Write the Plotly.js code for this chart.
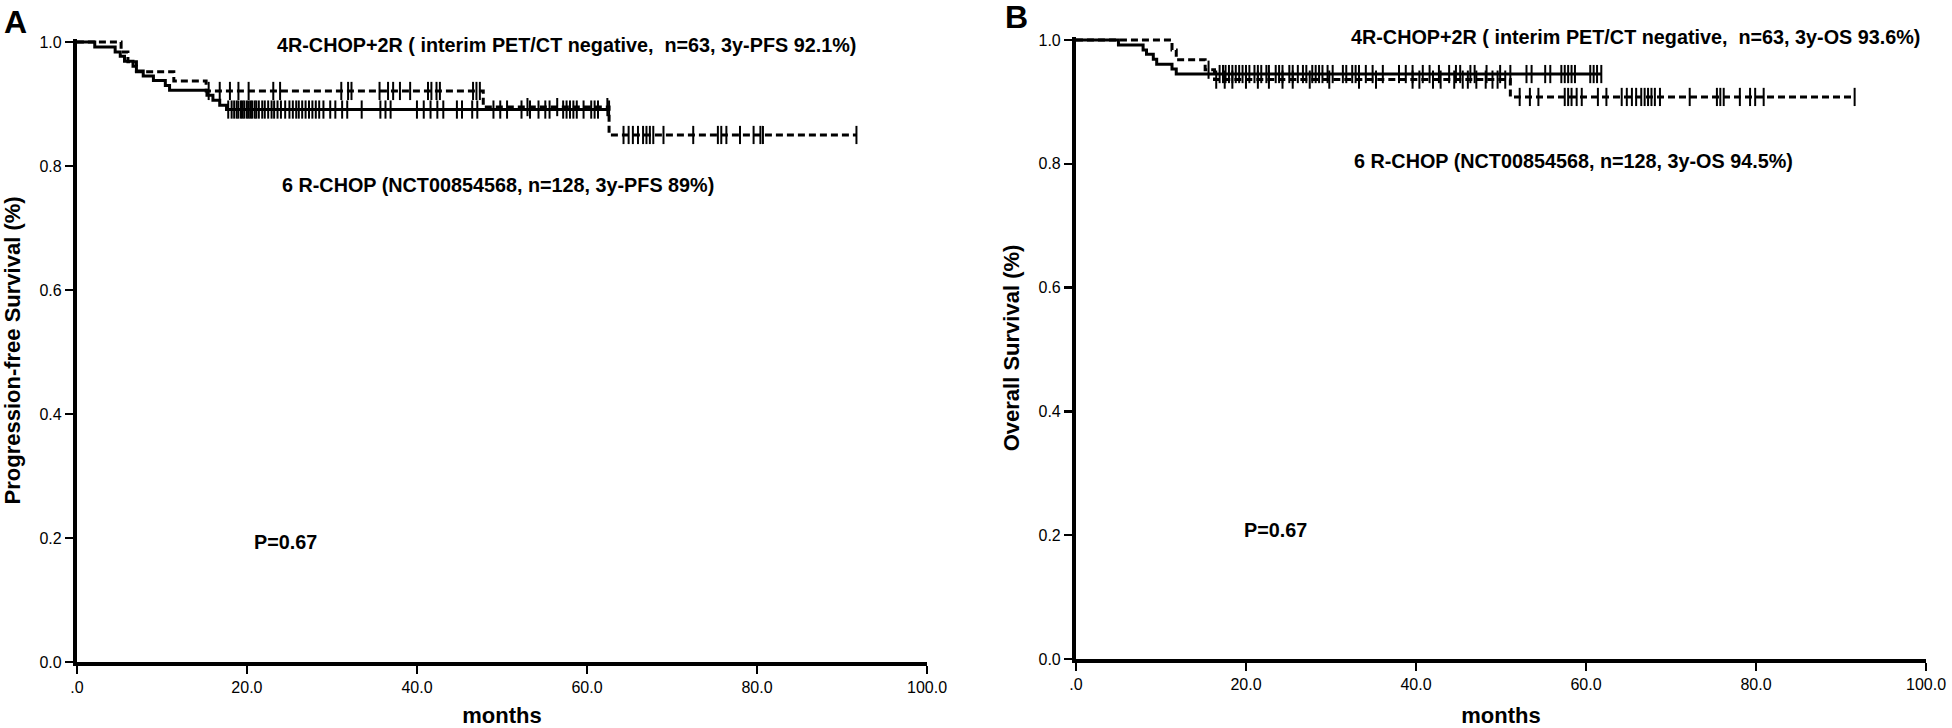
<!DOCTYPE html>
<html>
<head>
<meta charset="utf-8">
<script src="https://cdn.plot.ly/plotly-3.0.1.min.js"></script>
<style>
  html, body { margin: 0; padding: 0; background: #fff; }
  #km { width: 1952px; height: 728px; }
</style>
</head>
<body>
<div id="km"></div>
<script>
// ---- A: progression-free survival ----
// 6 R-CHOP (NCT00854568), solid line
var pfsRchopEvents   = [2.1, 4.5, 5.1, 5.6, 6.6, 7.0, 7.8, 9.0, 10.4, 10.9, 15.3, 16.0, 16.8, 17.6];
var pfsRchopSurv     = [0.992, 0.984, 0.977, 0.969, 0.961, 0.953, 0.945, 0.938, 0.930, 0.922, 0.914, 0.906, 0.898, 0.891];
var pfsRchopCensored = [17.8, 18.2, 18.5, 18.8, 19.0, 19.3, 19.5, 19.7, 20.0, 20.2, 20.4, 20.6, 20.9, 21.1, 21.4,
                        21.8, 22.1, 22.5, 22.9, 23.2, 23.6, 24.0, 24.5, 25.0, 25.4, 25.8, 26.1, 26.5, 26.9, 27.3,
                        27.7, 28.1, 28.5, 29.0, 29.8, 30.4, 31.2, 31.8, 33.5, 35.7, 36.3, 36.9, 40.0, 40.8, 41.6,
                        42.4, 43.1, 44.7, 45.3, 46.5, 47.1, 49.0, 49.8, 50.6, 52.3, 53.3, 54.3, 55.1, 55.6, 57.2,
                        57.6, 58.0, 58.4, 58.8, 59.6, 60.5, 60.9, 61.3, 62.6];
// 4R-CHOP+2R (interim PET/CT negative), dashed line
var pfsShortEvents   = [5.2, 6.0, 7.0, 11.4, 15.2, 47.8, 62.6];
var pfsShortSurv     = [0.984, 0.968, 0.952, 0.937, 0.921, 0.895, 0.850];
var pfsShortCensored = [15.5, 16.8, 18.0, 19.0, 20.2, 23.1, 23.9, 31.1, 31.9, 32.3, 35.6, 36.6, 37.2, 38.0, 39.2,
                        41.3, 41.7, 42.3, 42.7, 46.6, 47.0, 47.4, 53.0, 56.5, 62.4, 64.3, 64.9, 65.4, 66.0, 66.6,
                        67.0, 67.4, 67.8, 69.0, 72.5, 75.4, 75.8, 76.4, 78.0, 79.6, 80.4, 80.7, 91.7];

// ---- B: overall survival ----
var osRchopEvents   = [5.0, 7.9, 8.3, 9.1, 9.5, 11.3, 11.8];
var osRchopSurv     = [0.992, 0.984, 0.977, 0.969, 0.961, 0.953, 0.945];
var osRchopCensored = [16.9, 17.3, 17.6, 18.0, 18.4, 18.8, 19.2, 19.6, 20.0, 20.4, 21.0, 21.4, 21.8, 22.4, 22.7,
                       23.5, 23.9, 24.3, 25.1, 25.5, 26.1, 26.7, 27.1, 27.8, 28.2, 28.6, 29.0, 29.6, 30.2, 31.4,
                       31.8, 32.5, 32.9, 33.3, 34.1, 34.9, 36.1, 38.0, 38.8, 39.6, 40.8, 41.6, 42.7, 43.9, 44.7,
                       45.2, 46.4, 46.9, 48.3, 49.9, 51.1, 53.0, 53.6, 55.2, 55.8, 57.1, 57.5, 57.9, 58.3, 58.7,
                       60.5, 60.9, 61.3, 61.8];
var osShortEvents   = [11.3, 11.8, 15.2, 16.3, 51.1];
var osShortSurv     = [0.984, 0.968, 0.952, 0.936, 0.908];
var osShortCensored = [15.6, 16.5, 17.5, 18.4, 20.0, 21.4, 22.7, 24.3, 25.5, 27.5, 29.8, 33.3, 35.3, 39.6, 40.4,
                       42.0, 42.9, 44.5, 45.5, 46.1, 47.1, 48.2, 49.0, 49.6, 50.5, 52.2, 53.4, 54.4, 57.5, 57.9,
                       58.3, 58.9, 59.5, 61.4, 62.4, 64.2, 64.8, 65.4, 65.9, 66.5, 66.9, 67.3, 67.7, 68.1, 68.7,
                       72.2, 75.4, 75.8, 76.2, 78.1, 79.3, 79.9, 80.9, 91.6];

var xTickVals = [0, 20, 40, 60, 80, 100];
var xTickText = ['.0', '20.0', '40.0', '60.0', '80.0', '100.0'];
var yTickVals = [0, 0.2, 0.4, 0.6, 0.8, 1.0];
var yTickText = ['0.0', '0.2', '0.4', '0.6', '0.8', '1.0'];

var FONT = 'Liberation Sans, Arial, Helvetica, sans-serif';

// KM level at time t (step function)
function survAt(t, events, surv) {
  var s = 1;
  for (var i = 0; i < events.length; i++) {
    if (events[i] <= t) s = surv[i];
  }
  return s;
}

function kmTraces(events, surv, censored, dash, xa, ya) {
  var last = Math.max(censored[censored.length - 1], events[events.length - 1]);
  var lx = [0].concat(events).concat([last]);
  var ly = [1].concat(surv).concat([surv[surv.length - 1]]);
  var cy = censored.map(function (t) { return survAt(t, events, surv); });
  return [
    {x: lx, y: ly, xaxis: xa, yaxis: ya, mode: 'lines',
     line: {shape: 'hv', color: '#000', width: 3, dash: dash}, hoverinfo: 'skip'},
    {x: censored, y: cy, xaxis: xa, yaxis: ya, mode: 'markers', cliponaxis: false,
     marker: {symbol: 'line-ns-open', size: 13, color: '#000', line: {color: '#000', width: 2}}}
  ];
}

var data = []
  .concat(kmTraces(pfsShortEvents, pfsShortSurv, pfsShortCensored, '7px,4px', 'x', 'y'))
  .concat(kmTraces(pfsRchopEvents, pfsRchopSurv, pfsRchopCensored, 'solid', 'x', 'y'))
  .concat(kmTraces(osShortEvents, osShortSurv, osShortCensored, '7px,4px', 'x2', 'y2'))
  .concat(kmTraces(osRchopEvents, osRchopSurv, osRchopCensored, 'solid', 'x2', 'y2'));

function xAxis(domain, anchor) {
  return {
    domain: domain, anchor: anchor, range: [0, 100],
    tickvals: xTickVals, ticktext: xTickText,
    showline: true, linewidth: 4, linecolor: '#000',
    ticks: 'outside', ticklen: 8, tickwidth: 2.5, tickcolor: '#000',
    showgrid: false, zeroline: false,
    tickfont: {family: FONT, size: 16, color: '#000'},
    title: {text: 'months', font: {family: FONT, size: 22, color: '#000', weight: 'bold'}}
  };
}
function yAxis(domain, anchor, title) {
  return {
    domain: domain, anchor: anchor, range: [0, 1.005],
    tickvals: yTickVals, ticktext: yTickText,
    showline: true, linewidth: 4, linecolor: '#000',
    ticks: 'outside', ticklen: 8, tickwidth: 2.5, tickcolor: '#000',
    showgrid: false, zeroline: false,
    tickfont: {family: FONT, size: 16, color: '#000'},
    title: {text: title, font: {family: FONT, size: 22, color: '#000', weight: 'bold'}}
  };
}

function note(text, x, y, xref, yref, size) {
  return {text: text, x: x, y: y, xref: xref, yref: yref, xanchor: 'left', yanchor: 'middle',
          showarrow: false, font: {family: FONT, size: size, color: '#000', weight: 'bold'}};
}

var layout = {
  width: 1952, height: 728,
  margin: {l: 0, r: 0, t: 0, b: 0},
  paper_bgcolor: '#fff', plot_bgcolor: '#fff',
  showlegend: false,
  xaxis: xAxis([0.0394, 0.4749], 'y'),
  yaxis: yAxis([0.0907, 0.9466], 'x', 'Progression-free Survival (%)'),
  xaxis2: xAxis([0.5512, 0.9867], 'y2'),
  yaxis2: yAxis([0.0948, 0.9493], 'x2', 'Overall Survival (%)'),
  annotations: [
    note('4R-CHOP+2R ( interim PET/CT negative,\u00a0 n=63, 3y-PFS 92.1%)', 23.3, 0.995, 'x', 'y', 19.8),
    note('6 R-CHOP (NCT00854568, n=128, 3y-PFS 89%)', 23.9, 0.770, 'x', 'y', 19.8),
    note('P=0.67', 20.6, 0.194, 'x', 'y', 19.8),
    note('4R-CHOP+2R ( interim PET/CT negative,\u00a0 n=63, 3y-OS 93.6%)', 32.1, 1.005, 'x2', 'y2', 19.8),
    note('6 R-CHOP (NCT00854568, n=128, 3y-OS 94.5%)', 32.5, 0.805, 'x2', 'y2', 19.8),
    note('P=0.67', 19.5, 0.2076, 'x2', 'y2', 19.8),
    {text: 'A', x: 0.0077, y: 0.9698, xref: 'paper', yref: 'paper', xanchor: 'center', yanchor: 'middle',
     showarrow: false, font: {family: FONT, size: 32, color: '#000', weight: 'bold'}},
    {text: 'B', x: 0.521, y: 0.9766, xref: 'paper', yref: 'paper', xanchor: 'center', yanchor: 'middle',
     showarrow: false, font: {family: FONT, size: 32, color: '#000', weight: 'bold'}}
  ]
};

Plotly.newPlot('km', data, layout, {displayModeBar: false, staticPlot: true});
</script>
</body>
</html>
